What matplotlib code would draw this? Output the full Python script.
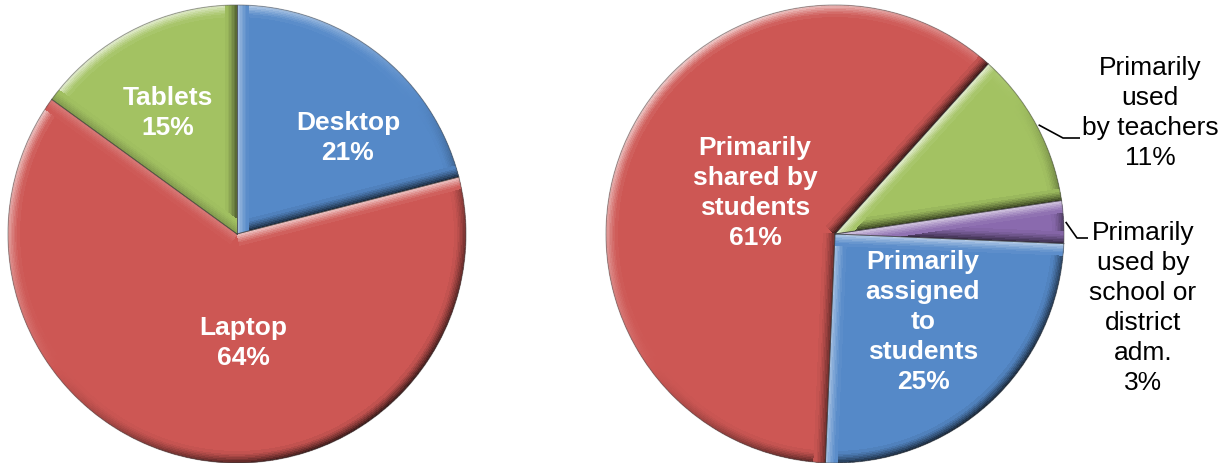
import numpy as np
import matplotlib
matplotlib.use("Agg")
import matplotlib.pyplot as plt
from matplotlib.collections import PolyCollection
from matplotlib.colors import to_rgb

plt.rcParams['font.family'] = ['Liberation Sans', 'DejaVu Sans']

# ---------------- data ----------------
left_labels = ["Desktop", "Laptop", "Tablets"]
left_values = [21, 64, 15]
left_colors = ["#5589C8", "#CD5754", "#A3C262"]

right_labels = ["Primarily\nused\nby teachers", "Primarily\nused by\nschool or\ndistrict\nadm.",
                "Primarily\nassigned\nto\nstudents", "Primarily\nshared by\nstudents"]
right_values = [11, 3, 25, 61]
right_colors = ["#A3C262", "#8A6AAE", "#5589C8", "#CD5754"]

W, H = 1222, 463
fig = plt.figure(figsize=(W / 100, H / 100), dpi=100)
ax = fig.add_axes([0, 0, 1, 1])

def Y(y):
    return H - y

LIGHT = np.array([-0.6, 0.8])
LIGHT = LIGHT / np.linalg.norm(LIGHT)

def shade(base, s, f):
    c = np.array(to_rgb(base))
    a = f * s
    if a >= 0:
        return tuple(c + (1 - c) * min(a * 0.75, 1))
    return tuple(c * (1 + a * 0.75))

def bevel(ax, wedge, color, width=11, k=7):
    cx, cy = wedge.center
    r = wedge.r
    t1, t2 = wedge.theta1, wedge.theta2
    polys, cols = [], []
    dw = width / k
    # arc bands
    phis = np.linspace(t1, t2, max(int((t2 - t1) / 1.0), 2) + 1)
    for i in range(k):
        ro, ri = r - i * dw, r - (i + 1) * dw - 0.6
        f = (1 - i / k) ** 1.3
        for a0, a1 in zip(phis[:-1], phis[1:]):
            am = np.radians((a0 + a1) / 2)
            n = np.array([np.cos(am), np.sin(am)])
            s = float(n @ LIGHT)
            A0, A1 = np.radians(a0 - 0.3), np.radians(a1 + 0.3)
            polys.append([(cx + ro * np.cos(A0), cy + ro * np.sin(A0)),
                          (cx + ro * np.cos(A1), cy + ro * np.sin(A1)),
                          (cx + ri * np.cos(A1), cy + ri * np.sin(A1)),
                          (cx + ri * np.cos(A0), cy + ri * np.sin(A0))])
            cols.append(shade(color, s, f))
    # radial edges
    for th, sign in ((t1, 1), (t2, -1)):
        t = np.radians(th)
        u = np.array([np.cos(t), np.sin(t)])
        p = sign * np.array([-np.sin(t), np.cos(t)])  # inward
        s = float((-p) @ LIGHT)
        c0 = np.array([cx, cy])
        for i in range(k):
            d0, d1 = i * dw, (i + 1) * dw + 0.6
            f = (1 - i / k) ** 1.3
            pts = [c0 + p * d0, c0 + u * r * 1.05 + p * d0,
                   c0 + u * r * 1.05 + p * d1, c0 + p * d1]
            polys.append([tuple(q) for q in pts])
            cols.append(shade(color, s, f))
    pc = PolyCollection(polys, facecolors=cols, edgecolors='none', antialiased=False, zorder=3)
    ax.add_collection(pc)
    pc.set_clip_path(wedge)

def draw_pie(values, colors, center, radius, startangle):
    wedges, _ = ax.pie(values, colors=colors, startangle=startangle, counterclock=False,
                       center=center, radius=radius, wedgeprops=dict(linewidth=0))
    for w, c in zip(wedges, colors):
        bevel(ax, w, c)
        w.set_zorder(2)
    # thin boundary lines
    for w in wedges:
        for th in (w.theta1, w.theta2):
            t = np.radians(th)
            ax.plot([center[0], center[0] + radius * np.cos(t)],
                    [center[1], center[1] + radius * np.sin(t)],
                    color="#3a3a3a", lw=0.7, alpha=0.5, zorder=4)
    return wedges

lc = (237, Y(234))
rc = (835, Y(234))
R = 229
lw_ = draw_pie(left_values, left_colors, lc, R, 90)
rw_ = draw_pie(right_values, right_colors, rc, R, 48)

# outer rim
for c in (lc, rc):
    ax.add_patch(plt.Circle(c, R, fill=False, ec="#555555", lw=0.8, alpha=0.5, zorder=5))

fs = 19
LS = 1.32
# left pie labels
left_pos = [(348, 138), (243, 343), (168, 113)]
for lab, v, (x, y) in zip(left_labels, left_values, left_pos):
    ax.text(x, Y(y), f"{lab}\n{v}%", ha='center', va='center', color='white',
            fontsize=fs, fontweight='bold', zorder=10, linespacing=LS)

# right pie labels
right_pos = [(1150, 113), (1143, 308), (923, 322), (755, 193)]
inside = [False, False, True, True]
for lab, v, (x, y), ins in zip(right_labels, right_values, right_pos, inside):
    ax.text(x, Y(y), f"{lab}\n{v}%", ha='center', va='center',
            color='white' if ins else 'black', fontsize=fs,
            fontweight='bold' if ins else 'normal', zorder=10, linespacing=LS)

# leader lines for outside labels
elbows = {0: [(1063, 138), (1080, 138)], 1: [(1077, 238), (1088, 238)]}
for idx, pts in elbows.items():
    w = rw_[idx]
    mid = np.radians((w.theta1 + w.theta2) / 2)
    sx, sy = rc[0] + (R + 2) * np.cos(mid), rc[1] + (R + 2) * np.sin(mid)
    xs = [sx] + [p[0] for p in pts]
    ys = [sy] + [Y(p[1]) for p in pts]
    ax.plot(xs, ys, color='black', lw=1.2, zorder=6, solid_capstyle='butt')

ax.set_xlim(0, W)
ax.set_ylim(0, H)
ax.set_aspect('auto')
ax.axis('off')

fig.savefig("out.png", dpi=100)
